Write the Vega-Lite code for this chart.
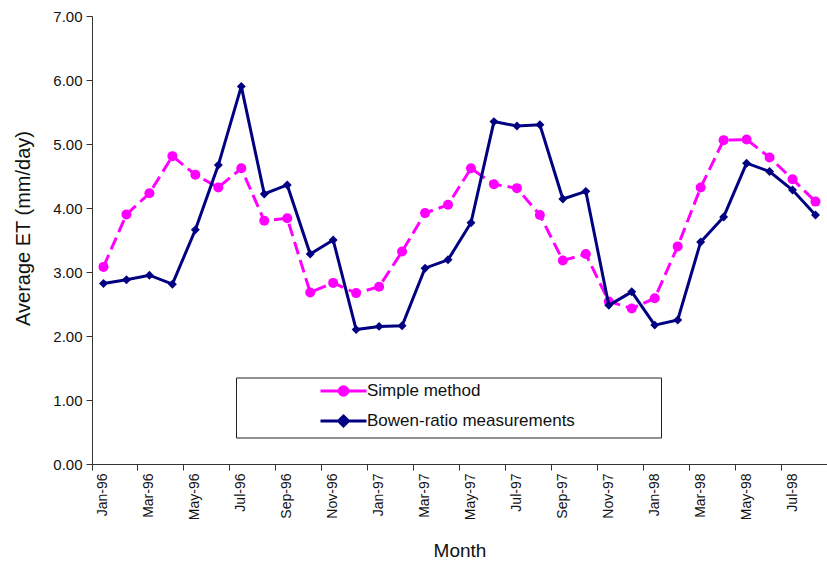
{
  "$schema": "https://vega.github.io/schema/vega-lite/v6.json",
  "autosize": {"type": "none"},
  "width": 735,
  "height": 448,
  "padding": {"left": 92, "top": 16, "right": 0, "bottom": 104},
  "background": "white",
  "config": {
    "view": {"stroke": null},
    "font": "Liberation Sans",
    "axis": {"grid": false, "domainColor": "#333", "tickColor": "#333", "labelColor": "#111", "titleColor": "#111", "labelFont": "Liberation Sans", "titleFont": "Liberation Sans", "titleFontWeight": "normal", "tickSize": 6}
  },
  "data": {"values": [
    {"month": "Jan-96", "series": "Simple method", "et": 3.08},
    {"month": "Feb-96", "series": "Simple method", "et": 3.90},
    {"month": "Mar-96", "series": "Simple method", "et": 4.23},
    {"month": "Apr-96", "series": "Simple method", "et": 4.81},
    {"month": "May-96", "series": "Simple method", "et": 4.52},
    {"month": "Jun-96", "series": "Simple method", "et": 4.32},
    {"month": "Jul-96", "series": "Simple method", "et": 4.62},
    {"month": "Aug-96", "series": "Simple method", "et": 3.80},
    {"month": "Sep-96", "series": "Simple method", "et": 3.84},
    {"month": "Oct-96", "series": "Simple method", "et": 2.68},
    {"month": "Nov-96", "series": "Simple method", "et": 2.83},
    {"month": "Dec-96", "series": "Simple method", "et": 2.67},
    {"month": "Jan-97", "series": "Simple method", "et": 2.77},
    {"month": "Feb-97", "series": "Simple method", "et": 3.32},
    {"month": "Mar-97", "series": "Simple method", "et": 3.92},
    {"month": "Apr-97", "series": "Simple method", "et": 4.05},
    {"month": "May-97", "series": "Simple method", "et": 4.62},
    {"month": "Jun-97", "series": "Simple method", "et": 4.37},
    {"month": "Jul-97", "series": "Simple method", "et": 4.31},
    {"month": "Aug-97", "series": "Simple method", "et": 3.89},
    {"month": "Sep-97", "series": "Simple method", "et": 3.18},
    {"month": "Oct-97", "series": "Simple method", "et": 3.28},
    {"month": "Nov-97", "series": "Simple method", "et": 2.54},
    {"month": "Dec-97", "series": "Simple method", "et": 2.43},
    {"month": "Jan-98", "series": "Simple method", "et": 2.59},
    {"month": "Feb-98", "series": "Simple method", "et": 3.40},
    {"month": "Mar-98", "series": "Simple method", "et": 4.32},
    {"month": "Apr-98", "series": "Simple method", "et": 5.06},
    {"month": "May-98", "series": "Simple method", "et": 5.07},
    {"month": "Jun-98", "series": "Simple method", "et": 4.79},
    {"month": "Jul-98", "series": "Simple method", "et": 4.45},
    {"month": "Aug-98", "series": "Simple method", "et": 4.10},
    {"month": "Jan-96", "series": "Bowen-ratio measurements", "et": 2.82},
    {"month": "Feb-96", "series": "Bowen-ratio measurements", "et": 2.88},
    {"month": "Mar-96", "series": "Bowen-ratio measurements", "et": 2.95},
    {"month": "Apr-96", "series": "Bowen-ratio measurements", "et": 2.81},
    {"month": "May-96", "series": "Bowen-ratio measurements", "et": 3.66},
    {"month": "Jun-96", "series": "Bowen-ratio measurements", "et": 4.67},
    {"month": "Jul-96", "series": "Bowen-ratio measurements", "et": 5.90},
    {"month": "Aug-96", "series": "Bowen-ratio measurements", "et": 4.22},
    {"month": "Sep-96", "series": "Bowen-ratio measurements", "et": 4.36},
    {"month": "Oct-96", "series": "Bowen-ratio measurements", "et": 3.28},
    {"month": "Nov-96", "series": "Bowen-ratio measurements", "et": 3.50},
    {"month": "Dec-96", "series": "Bowen-ratio measurements", "et": 2.10},
    {"month": "Jan-97", "series": "Bowen-ratio measurements", "et": 2.15},
    {"month": "Feb-97", "series": "Bowen-ratio measurements", "et": 2.16},
    {"month": "Mar-97", "series": "Bowen-ratio measurements", "et": 3.06},
    {"month": "Apr-97", "series": "Bowen-ratio measurements", "et": 3.19},
    {"month": "May-97", "series": "Bowen-ratio measurements", "et": 3.77},
    {"month": "Jun-97", "series": "Bowen-ratio measurements", "et": 5.35},
    {"month": "Jul-97", "series": "Bowen-ratio measurements", "et": 5.28},
    {"month": "Aug-97", "series": "Bowen-ratio measurements", "et": 5.30},
    {"month": "Sep-97", "series": "Bowen-ratio measurements", "et": 4.14},
    {"month": "Oct-97", "series": "Bowen-ratio measurements", "et": 4.26},
    {"month": "Nov-97", "series": "Bowen-ratio measurements", "et": 2.48},
    {"month": "Dec-97", "series": "Bowen-ratio measurements", "et": 2.69},
    {"month": "Jan-98", "series": "Bowen-ratio measurements", "et": 2.17},
    {"month": "Feb-98", "series": "Bowen-ratio measurements", "et": 2.25},
    {"month": "Mar-98", "series": "Bowen-ratio measurements", "et": 3.47},
    {"month": "Apr-98", "series": "Bowen-ratio measurements", "et": 3.86},
    {"month": "May-98", "series": "Bowen-ratio measurements", "et": 4.70},
    {"month": "Jun-98", "series": "Bowen-ratio measurements", "et": 4.57},
    {"month": "Jul-98", "series": "Bowen-ratio measurements", "et": 4.28},
    {"month": "Aug-98", "series": "Bowen-ratio measurements", "et": 3.89}
  ]},
  "encoding": {
    "x": {
      "field": "month", "type": "nominal", "sort": null,
      "scale": {"type": "band", "paddingInner": 0, "paddingOuter": 0},
      "axis": {
        "title": "Month", "titleFontSize": 19, "titlePadding": 22,
        "labelAngle": -90, "labelFontSize": 14, "labelPadding": 3,
        "bandPosition": 0, "labelOverlap": false,
        "values": ["Jan-96","Mar-96","May-96","Jul-96","Sep-96","Nov-96","Jan-97","Mar-97","May-97","Jul-97","Sep-97","Nov-97","Jan-98","Mar-98","May-98","Jul-98"]
      }
    },
    "y": {
      "field": "et", "type": "quantitative",
      "scale": {"domain": [0, 7], "nice": false, "zero": true},
      "axis": {"title": "Average ET (mm/day)", "titleFontSize": 20, "titlePadding": 19, "titleY": 212, "format": ".2f", "values": [0,1,2,3,4,5,6,7], "labelOverlap": false, "labelFontSize": 15, "labelPadding": 4}
    },
    "color": {
      "field": "series", "type": "nominal",
      "scale": {"domain": ["Simple method", "Bowen-ratio measurements"], "range": ["#FF00FF", "#000080"]},
      "legend": {
        "title": "\u00a0", "titleOrient": "right", "titleFontSize": 17, "titlePadding": 81,
        "orient": "none", "legendX": 144, "legendY": 361.5, "direction": "vertical",
        "strokeColor": "#222", "fillColor": "white", "padding": 5,
        "symbolSize": 100, "symbolOffset": 94, "labelOffset": 15, "rowPadding": 8, "labelLimit": 500,
        "labelFontSize": 17, "labelFont": "Liberation Sans", "labelColor": "#111",
        "symbolStrokeWidth": 3,
        "encode": {
          "symbols": {"update": {
            "shape": {"signal": "datum.value === 'Simple method' ? 'M-4.6,0H4.6M-0.85,0A0.85,0.85,0,1,1,0.85,0A0.85,0.85,0,1,1,-0.85,0Z' : 'M-4.6,0H4.6M0,-1L1,0L0,1L-1,0Z'"},
            "fill": {"signal": "scale('color', datum.value)"},
            "stroke": {"signal": "scale('color', datum.value)"},
            "strokeWidth": {"value": 3},
            "opacity": {"value": 1}
          }}
        }
      }
    }
  },
  "layer": [
    {
      "transform": [{"filter": "datum.series === 'Simple method'"}],
      "mark": {"type": "line", "strokeWidth": 3, "strokeDash": [13, 6]}
    },
    {
      "transform": [{"filter": "datum.series === 'Simple method'"}],
      "mark": {"type": "point", "filled": true, "size": 100, "opacity": 1, "shape": "circle"}
    },
    {
      "transform": [{"filter": "datum.series === 'Bowen-ratio measurements'"}],
      "mark": {"type": "line", "strokeWidth": 3}
    },
    {
      "transform": [{"filter": "datum.series === 'Bowen-ratio measurements'"}],
      "mark": {"type": "point", "filled": true, "size": 80, "opacity": 1, "shape": "diamond"}
    }
  ]
}
